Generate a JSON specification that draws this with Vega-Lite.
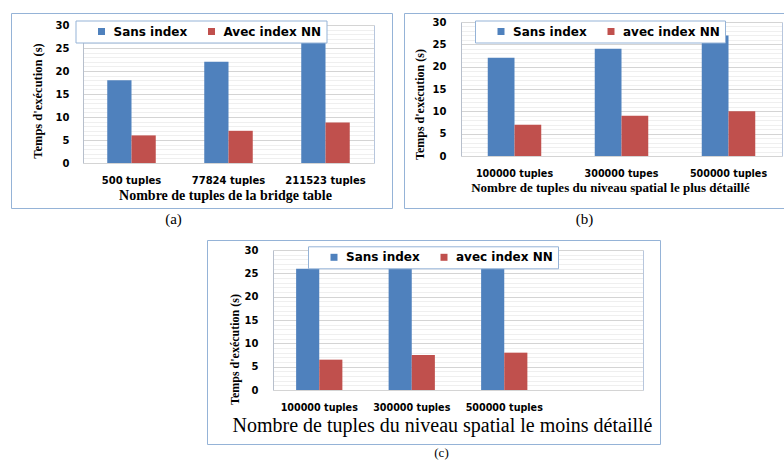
{
  "$schema": "https://vega.github.io/schema/vega-lite/v6.json",
  "padding": {"left": 10, "top": 12, "right": 0, "bottom": 0},
  "background": "white",
  "datasets": {
    "a": [
      {"taille": "500 tuples", "serie": "Sans index", "temps": 18},
      {"taille": "500 tuples", "serie": "Avec index NN", "temps": 6},
      {"taille": "77824 tuples", "serie": "Sans index", "temps": 22},
      {"taille": "77824 tuples", "serie": "Avec index NN", "temps": 7},
      {"taille": "211523 tuples", "serie": "Sans index", "temps": 28},
      {"taille": "211523 tuples", "serie": "Avec index NN", "temps": 8.8}
    ],
    "b": [
      {"taille": "100000 tuples", "serie": "Sans index", "temps": 22},
      {"taille": "100000 tuples", "serie": "avec index NN", "temps": 7},
      {"taille": "300000 tupes", "serie": "Sans index", "temps": 24},
      {"taille": "300000 tupes", "serie": "avec index NN", "temps": 9},
      {"taille": "500000 tuples", "serie": "Sans index", "temps": 27},
      {"taille": "500000 tuples", "serie": "avec index NN", "temps": 10}
    ],
    "c": [
      {"taille": "100000 tuples", "serie": "Sans index", "temps": 26},
      {"taille": "100000 tuples", "serie": "avec index NN", "temps": 6.5},
      {"taille": "300000 tuples", "serie": "Sans index", "temps": 27},
      {"taille": "300000 tuples", "serie": "avec index NN", "temps": 7.5},
      {"taille": "500000 tuples", "serie": "Sans index", "temps": 27},
      {"taille": "500000 tuples", "serie": "avec index NN", "temps": 8}
    ]
  },
  "vconcat": [
    {
      "hconcat": [
        {
          "width": 381,
          "height": 195,
          "title": {"text": "(a)", "dx": -28, "offset": 4},
          "data": {"name": "a"},
          "encoding": {
            "x": {
              "field": "taille", "type": "nominal",
              "scale": {"domain": ["500 tuples", "77824 tuples", "211523 tuples"], "range": [72, 363], "paddingInner": 0.5, "paddingOuter": 0.25},
              "axis": {"orient": "bottom", "offset": -45, "labelPadding": 12.5, "labelAngle": 0, "labelFontSize": 10, "domain": false, "grid": false,
                "title": "Nombre de tuples de la bridge table", "titleFontSize": 14, "titleX": 214, "titleY": 25.5, "titleAlign": "center", "titleBaseline": "top"}
            },
            "xOffset": {"field": "serie", "type": "nominal", "scale": {"domain": ["Sans index", "Avec index NN"]}},
            "y": {
              "field": "temps", "type": "quantitative",
              "scale": {"domain": [0, 30], "range": [150, 12], "nice": false, "zero": true},
              "axis": {"orient": "left", "offset": -72, "values": [0,1,2,3,4,5,6,7,8,9,10,11,12,13,14,15,16,17,18,19,20,21,22,23,24,25,26,27,28,29,30],
                "labelExpr": "datum.value % 5 === 0 ? datum.label : ''", "labelOverlap": false, "labelPadding": 14, "labelFontSize": 10,
                "grid": true, "gridColor": {"condition": {"test": "datum.value % 5 === 0", "value": "#d4d4d4"}, "value": "#efefef"},
                "domain": true, "domainColor": "#b7bfcc",
                "title": "Temps d'exécution (s)", "titleFontSize": 12.5, "titleAngle": -90, "titleAlign": "center", "titleBaseline": "bottom", "titleX": -39, "titleY": 87.5}
            },
            "color": {
              "field": "serie", "type": "nominal",
              "scale": {"domain": ["Sans index", "Avec index NN"], "range": ["#4f81bd", "#c0504d"]},
              "legend": {"orient": "none", "legendX": 64.5, "legendY": 7.5}
            }
          },
          "layer": [
            {"mark": {"type": "bar"}},
            {"mark": {"type": "bar", "opacity": 0},
             "encoding": {"y": {"field": "temps", "type": "quantitative",
               "axis": {"orient": "right", "offset": -18, "labels": false, "grid": false, "title": null, "domain": true, "domainColor": "#b7c6dd"}}}}
          ],
          "resolve": {"axis": {"y": "independent"}}
        },
        {
          "width": 381,
          "height": 195,
          "title": {"text": "(b)", "dx": -10, "offset": 4},
          "data": {"name": "b"},
          "encoding": {
            "x": {
              "field": "taille", "type": "nominal",
              "scale": {"domain": ["100000 tuples", "300000 tupes", "500000 tuples"], "range": [57, 378], "paddingInner": 0.5, "paddingOuter": 0.25},
              "axis": {"orient": "bottom", "offset": -52, "labelPadding": 12.5, "labelAngle": 0, "labelFontSize": 9.6, "domain": false, "grid": false,
                "title": "Nombre de tuples du niveau  spatial le plus détaillé", "titleFontSize": 13, "titleX": 206, "titleY": 25, "titleAlign": "center", "titleBaseline": "top"}
            },
            "xOffset": {"field": "serie", "type": "nominal", "scale": {"domain": ["Sans index", "avec index NN"]}},
            "y": {
              "field": "temps", "type": "quantitative",
              "scale": {"domain": [0, 30], "range": [143, 9], "nice": false, "zero": true},
              "axis": {"orient": "left", "offset": -57, "values": [0,1,2,3,4,5,6,7,8,9,10,11,12,13,14,15,16,17,18,19,20,21,22,23,24,25,26,27,28,29,30],
                "labelExpr": "datum.value % 5 === 0 ? datum.label : ''", "labelOverlap": false, "labelPadding": 15, "labelFontSize": 10,
                "grid": true, "gridColor": {"condition": {"test": "datum.value % 5 === 0", "value": "#d4d4d4"}, "value": "#efefef"},
                "domain": true, "domainColor": "#b7bfcc",
                "title": "Temps d'exécution (s)", "titleFontSize": 12, "titleAngle": -90, "titleAlign": "center", "titleBaseline": "bottom", "titleX": -35, "titleY": 91}
            },
            "color": {
              "field": "serie", "type": "nominal",
              "scale": {"domain": ["Sans index", "avec index NN"], "range": ["#4f81bd", "#c0504d"]},
              "legend": {"orient": "none", "legendX": 71, "legendY": 7.5}
            }
          },
          "layer": [
            {"mark": {"type": "bar"}},
            {"mark": {"type": "bar", "opacity": 0},
             "encoding": {"y": {"field": "temps", "type": "quantitative",
               "axis": {"orient": "right", "offset": -3, "labels": false, "grid": false, "title": null, "domain": true, "domainColor": "#b7c6dd"}}}}
          ],
          "resolve": {"axis": {"y": "independent"}}
        }
      ],
      "spacing": 10,
      "resolve": {"scale": {"color": "independent", "x": "independent", "y": "independent", "xOffset": "independent"}, "legend": {"color": "independent"}}
    },
    {
      "hconcat": [
        {
          "width": 195,
          "height": 10,
          "data": {"values": [{"v": 0}]},
          "mark": {"type": "point", "opacity": 0},
          "encoding": {},
          "view": {"stroke": null}
        },
        {
          "width": 453,
          "height": 204,
          "title": {"text": "(c)", "dx": 8, "offset": 3, "fontSize": 13},
          "data": {"name": "c"},
          "encoding": {
            "x": {
              "field": "taille", "type": "nominal",
              "scale": {"domain": ["100000 tuples", "300000 tuples", "500000 tuples", " "], "range": [66, 436], "paddingInner": 0.5, "paddingOuter": 0.25},
              "axis": {"orient": "bottom", "offset": -54, "labelPadding": 12.3, "labelAngle": 0, "labelFontSize": 9.6, "domain": false, "grid": false,
                "title": "Nombre de tuples du niveau  spatial le moins détaillé", "titleFontSize": 20, "titleFontWeight": "normal", "titleX": 235, "titleY": 25, "titleAlign": "center", "titleBaseline": "top"}
            },
            "xOffset": {"field": "serie", "type": "nominal", "scale": {"domain": ["Sans index", "avec index NN"]}},
            "y": {
              "field": "temps", "type": "quantitative",
              "scale": {"domain": [0, 30], "range": [150, 10], "nice": false, "zero": true},
              "axis": {"orient": "left", "offset": -66, "values": [0,1,2,3,4,5,6,7,8,9,10,11,12,13,14,15,16,17,18,19,20,21,22,23,24,25,26,27,28,29,30],
                "labelExpr": "datum.value % 5 === 0 ? datum.label : ''", "labelOverlap": false, "labelPadding": 15, "labelFontSize": 10,
                "grid": true, "gridColor": {"condition": {"test": "datum.value % 5 === 0", "value": "#d4d4d4"}, "value": "#efefef"},
                "domain": true, "domainColor": "#b7bfcc",
                "title": "Temps d'exécution (s)", "titleFontSize": 12, "titleAngle": -90, "titleAlign": "center", "titleBaseline": "bottom", "titleX": -32, "titleY": 109}
            },
            "color": {
              "field": "serie", "type": "nominal",
              "scale": {"domain": ["Sans index", "avec index NN"], "range": ["#4f81bd", "#c0504d"]},
              "legend": {"orient": "none", "legendX": 101, "legendY": 6.3}
            }
          },
          "layer": [
            {"mark": {"type": "bar"}},
            {"mark": {"type": "bar", "opacity": 0},
             "encoding": {"y": {"field": "temps", "type": "quantitative",
               "axis": {"orient": "right", "offset": -17, "labels": false, "grid": false, "title": null, "domain": true, "domainColor": "#b7c6dd"}}}}
          ],
          "resolve": {"axis": {"y": "independent"}}
        }
      ],
      "spacing": 0,
      "resolve": {"scale": {"color": "independent", "x": "independent", "y": "independent", "xOffset": "independent"}, "legend": {"color": "independent"}}
    }
  ],
  "spacing": 11,
  "resolve": {"scale": {"color": "independent", "x": "independent", "y": "independent", "xOffset": "independent"}, "legend": {"color": "independent"}},
  "config": {
    "view": {"stroke": "#95b3d7", "strokeWidth": 1},
    "axis": {"labelFont": "DejaVu Sans", "labelFontWeight": "bold", "labelColor": "#000000", "titleColor": "#000000", "titleFont": "Liberation Serif", "titleFontWeight": "bold", "ticks": false},
    "legend": {"direction": "horizontal", "title": null, "fillColor": "white", "strokeColor": "#95b3d7", "padding": 5, "symbolType": "square", "symbolSize": 49, "symbolStrokeWidth": 0, "symbolOffset": 15, "labelOffset": 6, "columnPadding": 3, "labelFont": "DejaVu Sans", "labelFontSize": 12, "labelFontWeight": "bold", "labelColor": "#000000", "zindex": 1},
    "title": {"font": "Liberation Serif", "fontSize": 15, "fontWeight": "normal", "color": "#000000", "orient": "bottom", "baseline": "top", "anchor": "middle"}
  }
}
